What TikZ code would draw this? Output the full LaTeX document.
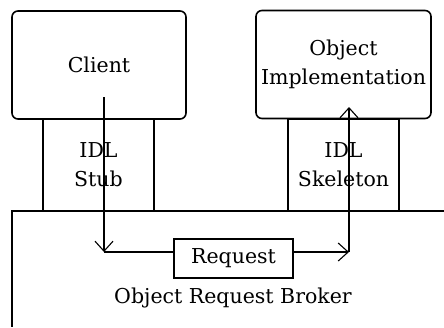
\documentclass[tikz,border=0pt]{standalone}
\usepackage{fontspec}
\setmainfont{DejaVu Serif}
\usetikzlibrary{arrows.meta}
\begin{document}
\begin{tikzpicture}[x=1pt,y=-1pt,
  line width=1.6pt,
  txt/.style={font=\fontsize{20.5}{29}\selectfont, align=center, inner sep=0pt},
  obj/.style={draw, rounded corners=6pt, txt},
  idl/.style={draw, txt},
  arr/.style={-{Straight Barb[length=10pt,width=18pt,line width=1.1pt]}}]
\useasboundingbox (0,0) rectangle (444,327);
\fill[white] (0,0) rectangle (444,327);
% ORB frame (open to the right and bottom)
\draw (444,211) -- (12,211) -- (12,327);
\node[txt] (orbtext) at (233,298) {Object Request Broker};
% stub and skeleton
\node[idl, minimum width=111pt, minimum height=92pt] (stub) at (98.5,165) {IDL\\Stub};
\node[idl, minimum width=111pt, minimum height=92pt] (skel) at (343.5,165) {IDL\\Skeleton};
% client and object implementation
\node[obj, fill=white, minimum width=174pt, minimum height=108pt] (client) at (99,65) {Client};
\node[obj, fill=white, minimum width=175pt, minimum height=108pt] (impl) at (343.5,64.5) {Object\\Implementation};
% request
\node[idl, fill=white, minimum width=119pt, minimum height=39pt] (request) at (233.5,258.5) {Request};
% connectors
\coordinate (cstart) at (104,97);
\coordinate (cturn) at (104,252);
\coordinate (sturn) at (349,252);
\coordinate (send) at (349,107);
\draw[arr] (cstart) -- (cturn);
\draw (cturn) -- (cturn -| request.west);
\draw[arr] (sturn -| request.east) -- (sturn);
\draw[arr] (sturn) -- (send);
\end{tikzpicture}
\end{document}
